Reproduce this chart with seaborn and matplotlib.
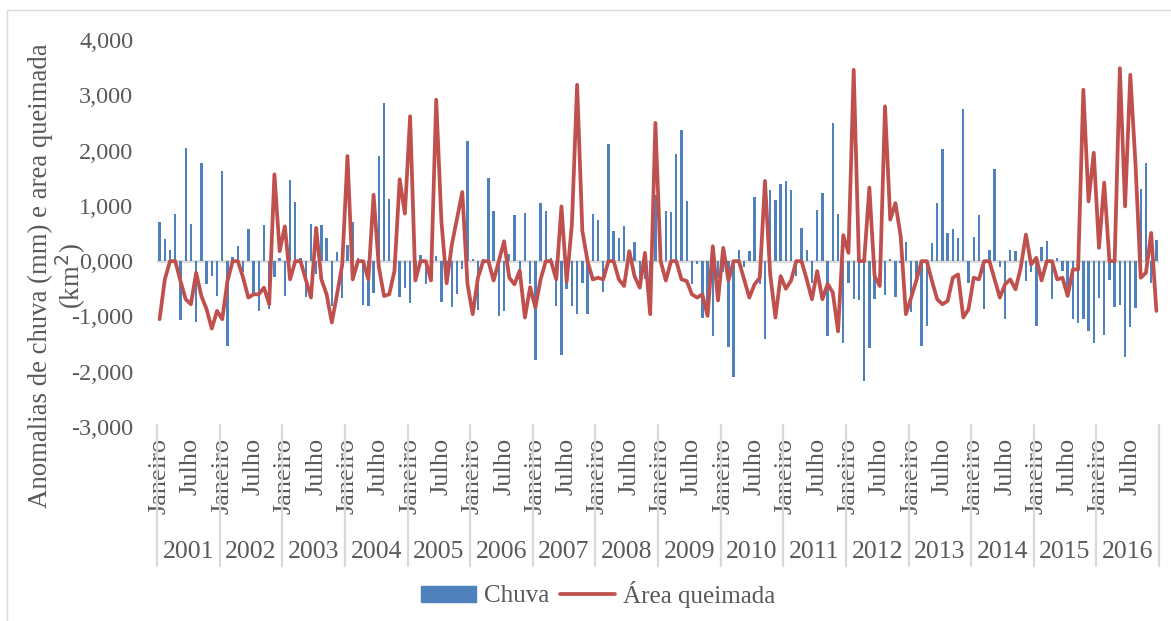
import matplotlib
matplotlib.use("Agg")
import matplotlib.pyplot as plt
import matplotlib.transforms as mtransforms
from matplotlib.lines import Line2D
from matplotlib.patches import Patch
import numpy as np
import pandas as pd
import seaborn as sns

## --- data (anomalies), one row of 12 months per year

years = ['2001', '2002', '2003', '2004', '2005', '2006', '2007', '2008',
         '2009', '2010', '2011', '2012', '2013', '2014', '2015', '2016']
month_labels = {0: 'Janeiro', 6: 'Julho'}

chuva = [
    [700, 400, 200, 860, -1070, 2050, 680, -1100, 1780, -420, -260, -630],     # 2001
    [1630, -1540, 80, 270, -200, 580, -600, -900, 650, -870, -280, 50],        # 2002
    [-630, 1460, 1070, 50, -650, 680, -240, 660, 410, -810, 160, -660],        # 2003
    [300, 700, 60, -800, -820, -570, 1900, 2860, 1130, -100, -640, -480],      # 2004
    [-750, -300, 120, -420, -300, 90, -730, -350, -830, -600, -150, 2170],     # 2005
    [40, -890, 40, 1500, 900, -1000, -900, 130, 830, -200, 870, -420],         # 2006
    [-1780, 1050, 900, 50, -810, -1690, -510, -810, -950, -390, -950, 860],    # 2007
    [750, -560, 2110, 540, 410, 640, 100, 350, -330, -330, -500, 1200],        # 2008
    [50, 900, 890, 1940, 2380, 1080, -420, -60, -1020, -1000, -1360, -300],    # 2009
    [-200, -1550, -2090, 200, -110, 190, 1160, -420, -1400, 1280, 1110, 1400], # 2010
    [1450, 1280, -270, 600, 210, -390, 930, 1230, -1360, 2500, 860, -1480],    # 2011
    [-400, -690, -710, -2160, -1570, -690, -300, -620, 40, -640, -40, 350],    # 2012
    [-920, -300, -1540, -1170, 330, 1050, 2020, 510, 590, 410, 2760, -390],    # 2013
    [440, 840, -860, 210, 1660, -100, -1040, 210, 190, -100, -360, -190],      # 2014
    [-1170, 250, 370, -690, 60, -180, -500, -1040, -1110, -1040, -1270, -1480],# 2015
    [-660, -1340, -350, -830, -800, -1730, -1190, -840, 1300, 1780, -400, 380],# 2016
]

area = [
    [-1050, -330, 0, 0, -360, -690, -780, -210, -630, -870, -1220, -900],     # 2001
    [-1050, -360, 0, 0, -300, -660, -600, -600, -480, -780, 1570, 180],       # 2002
    [630, -330, 0, 0, -330, -660, 600, -330, -600, -1110, -600, -60],         # 2003
    [1900, -330, 0, 0, -330, 1200, -100, -630, -600, -180, 1480, 860],        # 2004
    [2620, -350, 0, 0, -350, 2920, 720, -400, 300, 780, 1250, -420],          # 2005
    [-960, -300, 0, 0, -350, 0, 360, -300, -420, -170, -1020, -470],          # 2006
    [-840, -330, 0, 0, -330, 990, -370, 660, 3190, 550, 0, -330],             # 2007
    [-300, -330, 0, 0, -330, -450, 180, -270, -480, 150, -960, 2500],         # 2008
    [0, -350, 0, 0, -330, -360, -600, -660, -600, -990, 270, -710],           # 2009
    [240, -350, 0, 0, -330, -660, -420, -300, 1450, -240, -1020, -270],       # 2010
    [-500, -350, 0, 0, -330, -690, -180, -690, -410, -570, -1270, 470],       # 2011
    [150, 3460, 0, 0, 1330, -270, -450, 2800, 750, 1050, 450, -960],          # 2012
    [-660, -350, 0, 0, -360, -690, -780, -720, -300, -240, -1020, -870],      # 2013
    [-300, -330, 0, 0, -330, -660, -420, -330, -510, -120, 480, -60],         # 2014
    [60, -350, 0, 0, -330, -300, -630, -150, -150, 3100, 1080, 1960],         # 2015
    [240, 1420, 0, 0, 3490, 990, 3370, 1750, -300, -210, 510, -900],          # 2016
]

y_ticks = [-3000, -2000, -1000, 0, 1000, 2000, 3000, 4000]
y_tick_labels = ['-3,000', '-2,000', '-1,000', '0,000', '1,000', '2,000', '3,000', '4,000']

## --- build a long table, one row per month

df = pd.DataFrame({
    'mes': np.arange(len(years) * 12),
    'Chuva': np.ravel(chuva),
    'Area': np.ravel(area),
})

blue = '#4F81BD'
red = '#C0504D'
grey_txt = '#595959'
grey_line = '#D9D9D9'

sns.set_theme(style='white')
plt.rcParams['font.family'] = ['Liberation Serif', 'DejaVu Serif']

W, H = 1171, 621
fig = plt.figure(figsize=(W / 100, H / 100), dpi=100)
ax = fig.add_axes([157 / W, 1 - 427 / H, (1159 - 157) / W, (427 - 40) / H])

ax.axhline(0, color=grey_line, lw=2, zorder=0)
sns.barplot(data=df, x='mes', y='Chuva', color=blue, saturation=1,
            width=0.46, linewidth=0, errorbar=None, ax=ax, zorder=2)
sns.lineplot(data=df, x='mes', y='Area', color=red, lw=2.7, ax=ax, zorder=3)

ax.set_xlim(-0.5, len(df) - 0.5)
ax.set_ylim(-3000, 4000)
ax.set_yticks(y_ticks)
ax.set_yticklabels(y_tick_labels)
ax.tick_params(axis='y', length=0, pad=17, labelsize=17.5, labelcolor=grey_txt)
ax.set_xticks([])
ax.set_xlabel('')
ax.set_ylabel('')
for s in ax.spines.values():
    s.set_visible(False)

## --- category axis drawn by hand: months, years and separators

trans = mtransforms.blended_transform_factory(ax.transData, fig.transFigure)
for k, yr in enumerate(years):
    for m, lab in month_labels.items():
        ax.text(12 * k + m, 1 - 438 / H, lab, transform=trans, rotation=90,
                ha='center', va='top', fontsize=19, color=grey_txt)
    ax.text(12 * k + 5.5, 1 - 552 / H, yr, transform=trans, ha='center',
            va='center', fontsize=18.5, color=grey_txt)
for k in range(len(years) + 1):
    fig.add_artist(Line2D([12 * k - 0.5, 12 * k - 0.5], [1 - 425 / H, 1 - 566 / H],
                          transform=trans, color=grey_line, lw=1.6))

fig.text(58 / W, 1 - 276 / H, 'Anomalias de chuva (mm) e area queimada\n(km$^2$)',
         rotation=90, ha='center', va='center', multialignment='center',
         fontsize=19.3, color=grey_txt, linespacing=1.0)

handles = [Patch(color=blue), Line2D([], [], color=red, lw=2.7)]
fig.legend(handles, ['Chuva', 'Área queimada'], loc='center',
           bbox_to_anchor=(598 / W, 1 - 594 / H), ncol=2, frameon=False,
           fontsize=18, handlelength=2.2, handleheight=0.6, handletextpad=0.3,
           columnspacing=0.45, labelcolor=grey_txt)

## --- light frame around the chart
fig.add_artist(Line2D([7 / W, 7 / W], [0, 1 - 10 / H], transform=fig.transFigure,
                      color=grey_line, lw=1))
fig.add_artist(Line2D([7 / W, 1], [1 - 10 / H, 1 - 10 / H], transform=fig.transFigure,
                      color=grey_line, lw=1))

fig.savefig('out.png', dpi=100)
